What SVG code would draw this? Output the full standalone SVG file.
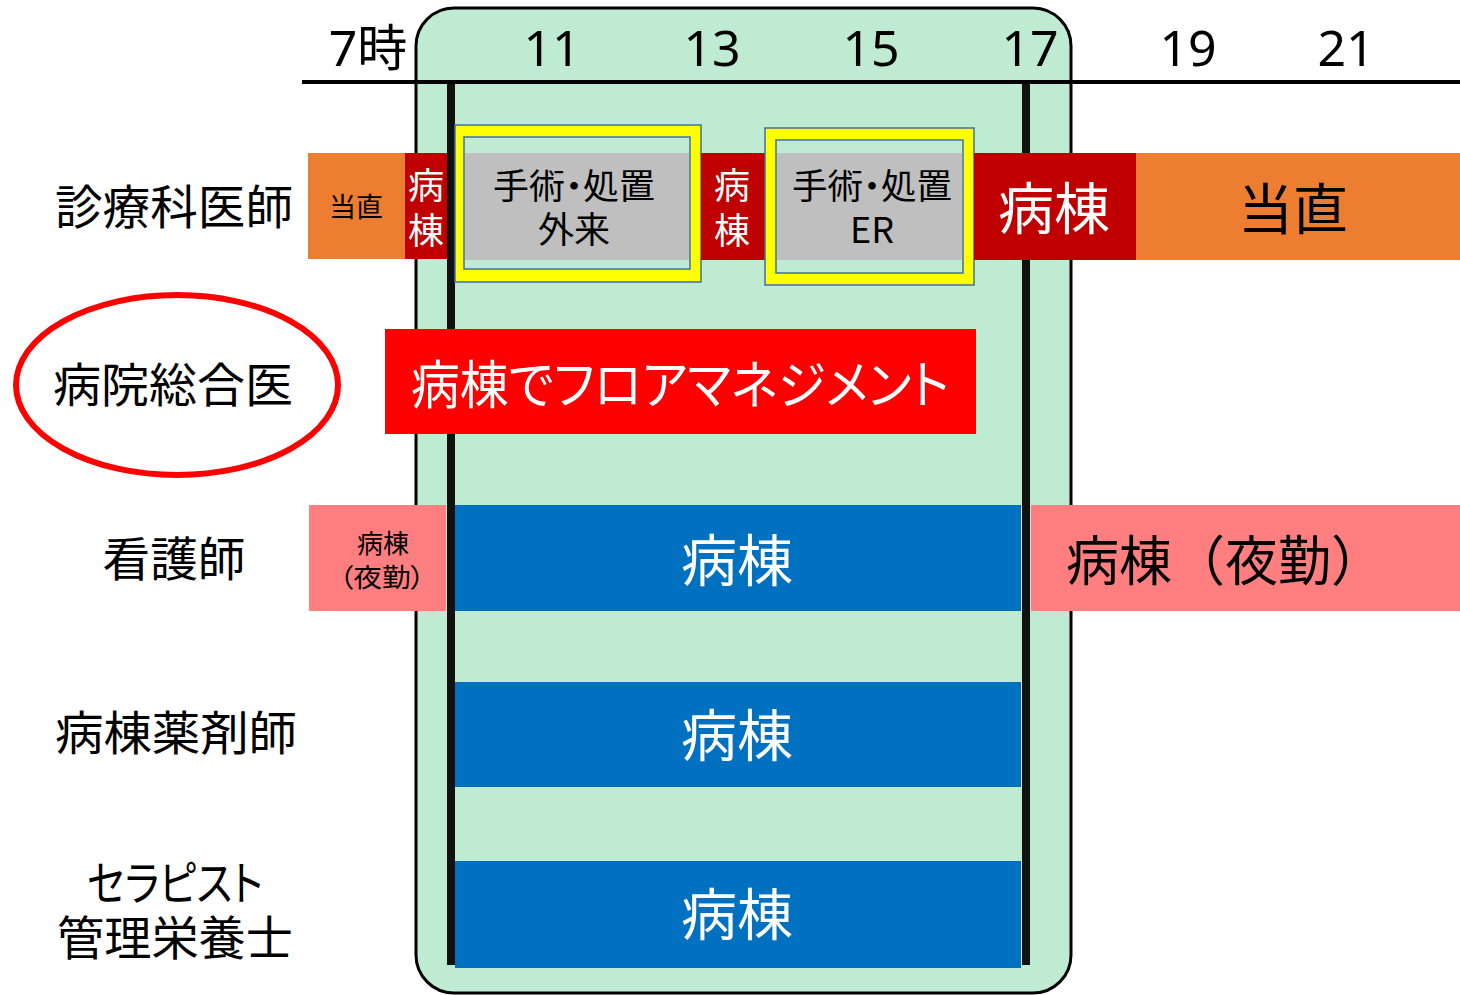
<svg xmlns="http://www.w3.org/2000/svg" width="1460" height="995" viewBox="0 0 1460 995">
<style>
text{font-family:"Noto Sans CJK JP","Noto Sans",sans-serif;font-feature-settings:"palt";}
.lbl{font-size:47px;fill:#000;text-anchor:middle;}
.time{font-size:50px;fill:#000;text-anchor:middle;font-family:"Noto Sans","Noto Sans CJK JP",sans-serif;}
.w{fill:#fff;text-anchor:middle;}
.k{fill:#000;text-anchor:middle;}
.orange{fill:#ED7D31;}
.dred{fill:#C00000;}
.gray{fill:#BFBFBF;}
.blue{fill:#0070C0;}
.pink{fill:#FF7F80;}
.yel{fill:#FFFF00;stroke:#41719C;stroke-width:1.5;}
.inner{fill:#BFEBD3;stroke:#41719C;stroke-width:1.5;}
.vline{stroke:#111;stroke-width:8;}
</style>
<rect width="1460" height="995" fill="#fff"/>
<g id="core-hours">
<rect x="416" y="8" width="655" height="985" rx="38" ry="38" fill="#BFEBD3" stroke="#000" stroke-width="3"/>
</g>
<g id="axis">
<line x1="302" y1="82" x2="1460" y2="82" stroke="#000" stroke-width="4"/>
<line class="vline" x1="451" y1="84" x2="451" y2="965"/>
<line class="vline" x1="1026" y1="84" x2="1026" y2="965"/>
<text class="time" x="368" y="66">7時</text>
<text class="time" x="552" y="66">11</text>
<text class="time" x="712" y="66">13</text>
<text class="time" x="871" y="66">15</text>
<text class="time" x="1030" y="66">17</text>
<text class="time" x="1188" y="66">19</text>
<text class="time" x="1346" y="66">21</text>
</g>
<g id="labels">
<text class="lbl" x="174" y="224" textLength="238" lengthAdjust="spacingAndGlyphs">診療科医師</text>
<text class="lbl" x="173" y="402" textLength="240" lengthAdjust="spacingAndGlyphs">病院総合医</text>
<text class="lbl" x="174" y="576" textLength="143" lengthAdjust="spacingAndGlyphs">看護師</text>
<text class="lbl" x="176" y="750" textLength="242" lengthAdjust="spacingAndGlyphs">病棟薬剤師</text>
<text class="lbl" x="175" y="900" textLength="176" lengthAdjust="spacingAndGlyphs">セラピスト</text>
<text class="lbl" x="175" y="955" textLength="236" lengthAdjust="spacingAndGlyphs">管理栄養士</text>
</g>
<g id="highlight">
<ellipse cx="177" cy="385" rx="161" ry="90" fill="none" stroke="#FF0000" stroke-width="6"/>
</g>
<g id="doctor-row">
<rect class="orange" x="308" y="153" width="97" height="106"/>
<text class="k" x="356" y="217" font-size="27" textLength="54" lengthAdjust="spacingAndGlyphs">当直</text>
<rect class="dred" x="405" y="153" width="42" height="106"/>
<text class="w" x="426" y="199" font-size="36">病</text>
<text class="w" x="426" y="244" font-size="36">棟</text>
<rect class="yel" x="455" y="125" width="246" height="157"/>
<rect class="inner" x="464" y="137" width="226" height="132"/>
<rect class="gray" x="465" y="153" width="224" height="107"/>
<text class="k" x="574" y="199" font-size="35" textLength="162" lengthAdjust="spacingAndGlyphs">手術・処置</text>
<text class="k" x="574" y="243" font-size="36">外来</text>
<rect class="dred" x="701" y="153" width="64" height="107"/>
<text class="w" x="732" y="199" font-size="36">病</text>
<text class="w" x="732" y="244" font-size="36">棟</text>
<rect class="yel" x="765" y="128" width="209" height="157"/>
<rect class="inner" x="776" y="140" width="187" height="133"/>
<rect class="gray" x="777" y="153" width="185" height="107"/>
<text class="k" x="872" y="199" font-size="35" textLength="160" lengthAdjust="spacingAndGlyphs">手術・処置</text>
<text class="k" x="872" y="243" font-size="36" font-family="Noto Sans,sans-serif">ER</text>
<rect class="dred" x="974" y="153" width="162" height="107"/>
<text class="w" x="1054" y="229" font-size="56">病棟</text>
<rect class="orange" x="1136" y="153" width="324" height="107"/>
<text class="k" x="1293" y="229" font-size="55">当直</text>
</g>
<g id="generalist-row">
<rect x="385" y="329" width="591" height="105" fill="#FF0000"/>
<text class="w" x="680" y="404" font-size="52" textLength="538" lengthAdjust="spacingAndGlyphs">病棟でフロアマネジメント</text>
</g>
<g id="nurse-row">
<rect class="pink" x="309" y="505" width="137" height="106"/>
<text class="k" x="383" y="553" font-size="26">病棟</text>
<text class="k" x="382" y="587" font-size="26" textLength="86" lengthAdjust="spacingAndGlyphs">（夜勤）</text>
<rect class="blue" x="455" y="505" width="566" height="106"/>
<text class="w" x="737" y="581" font-size="56">病棟</text>
<rect class="pink" x="1031" y="505" width="429" height="106"/>
<text x="1066" y="581" font-size="54" fill="#000" style="font-feature-settings:normal" textLength="318" lengthAdjust="spacingAndGlyphs">病棟（夜勤）</text>
</g>
<g id="pharmacist-row">
<rect class="blue" x="455" y="682" width="566" height="105"/>
<text class="w" x="737" y="756" font-size="56">病棟</text>
</g>
<g id="therapist-row">
<rect class="blue" x="455" y="861" width="566" height="107"/>
<text class="w" x="737" y="935" font-size="56">病棟</text>
</g>
</svg>
